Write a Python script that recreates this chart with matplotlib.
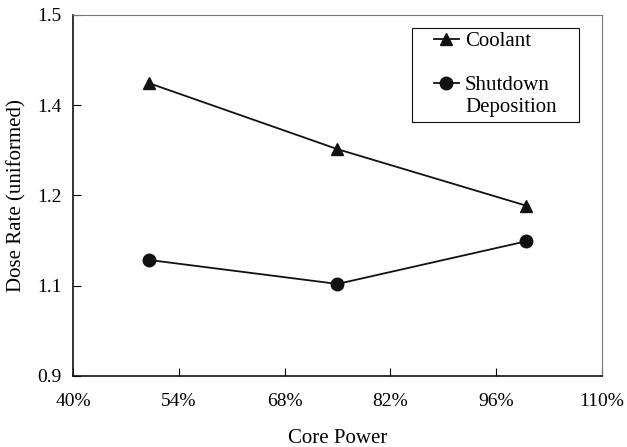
import matplotlib
matplotlib.use('Agg')
import matplotlib.pyplot as plt
from matplotlib.lines import Line2D
from matplotlib.patches import Rectangle

# Данные
core_power = [50, 75, 100]
coolant = [1.387, 1.277, 1.183]
shutdown = [1.093, 1.053, 1.124]

x_ticks = [40, 54, 68, 82, 96, 110]
x_labels = ['40%', '54%', '68%', '82%', '96%', '110%']
y_ticks = [0.9, 1.05, 1.2, 1.35, 1.5]
y_labels = ['0.9', '1.1', '1.2', '1.4', '1.5']

plt.rcParams['font.family'] = ['Liberation Serif', 'DejaVu Serif']
plt.rcParams['font.size'] = 14

fig = plt.figure(figsize=(6.27, 4.47), dpi=100)
ax = fig.add_axes([73/627, 1 - 376/447, 529/627, 361/447])

l1, = ax.plot(core_power, coolant, color='#111111', lw=1.3, marker='^', ms=9)
l2, = ax.plot(core_power, shutdown, color='#111111', lw=1.3, marker='o', ms=9)

ax.set_xlim(40, 110)
ax.set_ylim(0.9, 1.5)
ax.set_xticks(x_ticks, x_labels)
ax.set_yticks(y_ticks, y_labels)
ax.tick_params(axis='x', direction='in', length=6, width=0.8, pad=12, labelsize=14)
ax.tick_params(axis='y', direction='in', length=6, width=0.8, pad=8, labelsize=14)

for side in ['top', 'right']:
    ax.spines[side].set_color('#777777')
    ax.spines[side].set_linewidth(0.8)
for side in ['left', 'bottom']:
    ax.spines[side].set_color('#111111')
    ax.spines[side].set_linewidth(1.2)

ax.set_xlabel('Core Power', fontsize=15, labelpad=14)
ax.set_ylabel('Dose Rate (uniformed)', fontsize=15, labelpad=8)

# Легенда: рамка отдельно, подпись "Deposition" второй строкой
ax.add_patch(Rectangle((0.641, 0.704), 0.316, 0.260, transform=ax.transAxes,
                       fill=False, edgecolor='#111111', lw=0.8, zorder=5))
blank = Line2D([], [], color='none')
ax.legend([l1, blank, l2, blank], ['Coolant', '', 'Shutdown', 'Deposition'],
          loc='upper left', bbox_to_anchor=(0.682, 0.955), frameon=False,
          borderaxespad=0, borderpad=0, handlelength=1.2, handletextpad=0.3,
          labelspacing=0.12, fontsize=15)

fig.savefig('out.png', dpi=100)
